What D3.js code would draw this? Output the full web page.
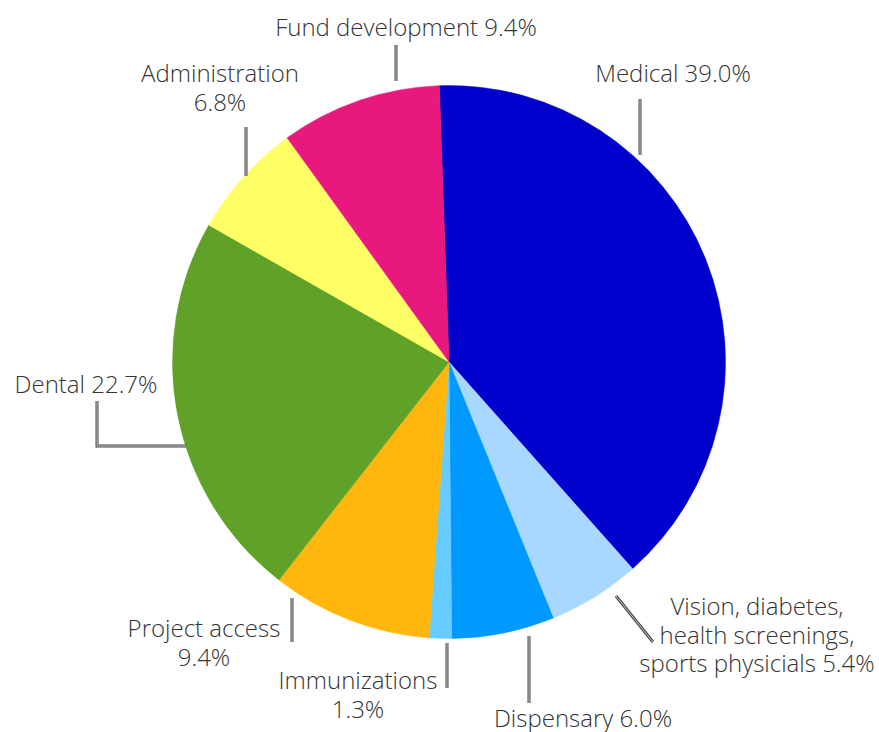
<!DOCTYPE html>
<html><head><meta charset="utf-8">
<script src="https://cdn.jsdelivr.net/npm/d3@7"></script>
<style>html,body{margin:0;padding:0;background:#fff;}</style>
</head><body>
<svg id="c" width="879" height="732"></svg>
<script>
const categories = ["Medical","Vision, diabetes, health screenings, sports physicials","Dispensary","Immunizations","Project access","Dental","Administration","Fund development"];
const values = [39.0, 5.4, 6.0, 1.3, 9.4, 22.7, 6.8, 9.4];
const colors = ["#0000CC","#A8D8FF","#0099FF","#66CCFF","#FFB70D","#5FA227","#FFFF66","#E8187E"];
const labelLines = [
  ["Medical 39.0%"],
  ["Vision, diabetes,","health screenings,","sports physicials 5.4%"],
  ["Dispensary 6.0%"],
  ["Immunizations","1.3%"],
  ["Project access","9.4%"],
  ["Dental 22.7%"],
  ["Administration","6.8%"],
  ["Fund development 9.4%"]
];
// label anchor positions (text centre x, first baseline y)
const labelPos = [[673,82],[757,615],[583,727],[358,689],[204,637],[86,393],[220,82],[406,36]];
// leader line paths
const leaders = [
  [[640,99],[640,155]],
  [[616,596],[653,642]],
  [[529,636],[529,703]],
  [[447,643],[447,688]],
  [[292,598],[292,642]],
  [[97,401],[97,446],[186,446]],
  [[246,127],[246,176]],
  [[396,45],[396,81]]
];

const svg = d3.select("#c");
const cx = 449, cy = 362, r = 276.5;
const startA = -2 * Math.PI / 180;
const pie = d3.pie().sort(null).value(d => d).startAngle(startA).endAngle(startA + 2*Math.PI);
const arc = d3.arc().innerRadius(0).outerRadius(r);
const g = svg.append("g").attr("transform", `translate(${cx},${cy})`);
g.selectAll("path").data(pie(values)).join("path")
  .attr("d", arc).attr("fill", (d,i) => colors[i])
  .attr("stroke", (d,i) => colors[i]).attr("stroke-width", 0.5);

const line = d3.line();
leaders.forEach(pts => {
  svg.append("path").attr("d", line(pts)).attr("fill","none")
    .attr("stroke","#444").attr("stroke-width",3);
  svg.append("path").attr("d", line(pts)).attr("fill","none")
    .attr("stroke","#cfcfcf").attr("stroke-width",1);
});

labelLines.forEach((lines, i) => {
  const t = svg.append("text")
    .attr("x", labelPos[i][0]).attr("y", labelPos[i][1])
    .attr("text-anchor","middle")
    .attr("font-family","'Open Sans', sans-serif")
    .attr("font-size", 24).attr("font-weight", 300)
    .attr("fill","#333");
  lines.forEach((s, j) => {
    t.append("tspan").attr("x", labelPos[i][0]).attr("y", labelPos[i][1] + j*28.7).text(s);
  });
});
</script>
</body></html>
